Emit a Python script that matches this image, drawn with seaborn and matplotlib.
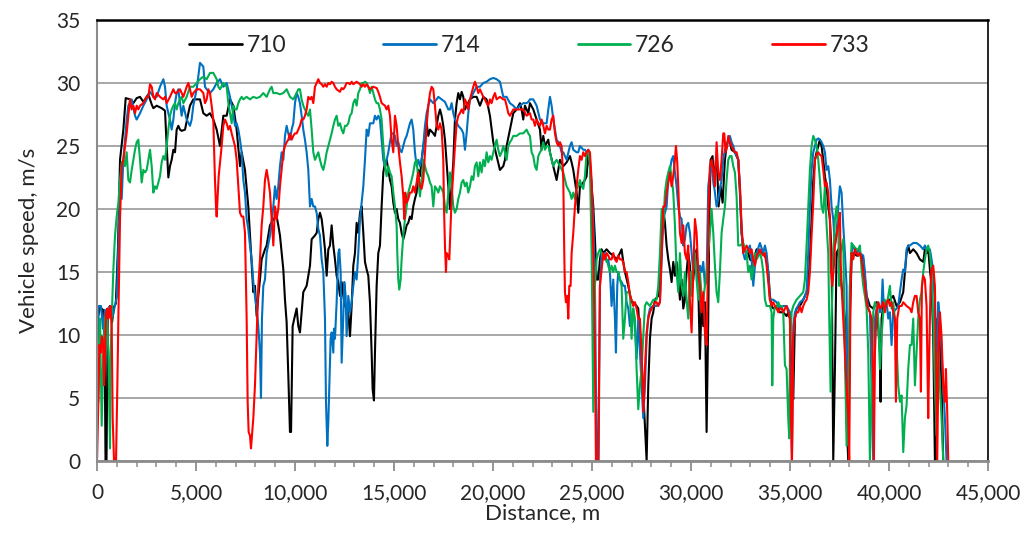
import numpy as np
import pandas as pd
import matplotlib
matplotlib.use("Agg")
import matplotlib.pyplot as plt
from matplotlib.ticker import MultipleLocator, FuncFormatter
import seaborn as sns

# ---------------- data (distance in m, speed in m/s) ----------------
series_names = ["710", "714", "726", "733"]

dist_710 = [0, 60, 150, 300, 380, 430, 480, 540, 650, 760, 850, 950, 1060,
    1162, 1330, 1448, 1667, 1835, 2003, 2172, 2340, 2592, 2761, 2845, 3013, 3265, 3434, 3518, 3602, 3686, 3770, 3855, 3939, 4023, 4107, 4191, 4275, 4444, 4612, 4696, 4864, 5033,
    5201, 5369, 5538, 5706, 5874, 6043, 6211, 6379, 6547, 6716, 6884, 7052, 7221, 7305, 7473, 7557, 7641, 7726, 7810, 7894, 7978, 8062, 8146, 8230, 8315, 8483, 8567, 8735, 8904, 9072, 9156, 9240, 9409, 9493, 9577, 9661, 9745, 9800, 9880, 9964, 10082, 10166, 10250, 10418, 10587,
    10756, 10840, 11008, 11093, 11177, 11261, 11345, 11429, 11513, 11598, 11682, 11766, 11850, 11934, 12018, 12102, 12187, 12271, 12355, 12439, 12523, 12607, 12691, 12776, 12860, 12944, 13028, 13112, 13196, 13281, 13365, 13449, 13533, 13617, 13701, 13785, 13870, 13920, 13987, 14038, 14122, 14206, 14290, 14374, 14459, 14543, 14627, 14711, 14795, 14879, 14964, 15048, 15132, 15216, 15300, 15384, 15468, 15553, 15637, 15721, 15805, 15889, 15973, 16057, 16142, 16226,
    16311, 16395, 16563, 16648, 16732, 16816, 16984, 17068, 17237, 17321, 17405, 17489, 17573, 17657, 17742, 17826, 17910, 17994, 18078, 18162, 18246, 18331, 18415, 18499, 18583, 18667, 18836, 19004, 19172, 19340, 19509, 19677, 19845, 20014, 20182, 20350, 20519, 20603, 20687, 20855, 21023, 21192, 21360, 21444, 21528, 21612, 21697, 21781,
    21866, 22034, 22203, 22371, 22455, 22539, 22623, 22792, 22876, 23044, 23212, 23381, 23549, 23717, 23886, 23970, 24054, 24222, 24306, 24391, 24559, 24643, 24727, 24811, 24895, 24980, 25064, 25148, 25232, 25316, 25400, 25484, 25569, 25737, 25905, 26074, 26242, 26410, 26494, 26578, 26663, 26831, 26999, 27083, 27252, 27336,
    27421, 27589, 27758, 27842, 27926, 28010, 28094, 28178, 28347, 28431, 28515, 28599, 28683, 28767, 28852, 28936, 29020, 29104, 29188, 29272, 29356, 29441, 29525, 29609, 29693, 29777, 29861, 29946, 30030, 30114, 30198, 30282, 30366, 30450, 30535, 30619, 30703, 30787, 30871, 30922, 30989, 31090, 31157, 31258, 31326, 31393, 31494, 31595, 31713, 31797, 31881, 31965, 32049, 32218, 32386, 32470, 32554, 32638, 32722, 32807, 32891,
    32976, 33144, 33313, 33481, 33649, 33818, 33902, 33986, 34070, 34154, 34322, 34491, 34659, 34827, 34911, 34996, 35080, 35164, 35248, 35332, 35501, 35669, 35837, 35921, 36005, 36090, 36174, 36258, 36342, 36426, 36510, 36594, 36679, 36763, 36847, 36931, 37015, 37099, 37184, 37268, 37352, 37436, 37520, 37604, 37773, 37857, 37941, 38025, 38109, 38193, 38362, 38446,
    38531, 38699, 38868, 39036, 39204, 39373, 39541, 39574, 39625, 39709, 39877, 40046, 40214, 40382, 40551, 40719, 40803, 40887, 40971, 41056, 41224, 41392, 41560, 41729, 41813, 41897, 41981, 42065, 42149, 42234, 42318, 42402, 42436, 42570, 42654, 42739]
speed_710 = [4.0, 11.5, 12.2, 12.0, 10.0, 0, 0, 11.5, 12.3, 11.0, 12.2, 12.5, 17.0,
    23.9, 26.3, 28.8, 28.7, 28.4, 28.8, 28.9, 28.5, 29.1, 28.3, 28.0, 28.2, 28.0, 27.8, 25.0, 22.5, 23.4, 23.9, 24.7, 24.5, 26.3, 26.6, 26.3, 26.2, 26.3, 27.6, 28.2, 28.7, 28.7,
    28.7, 27.6, 27.4, 27.6, 27.1, 26.3, 25.0, 27.4, 27.4, 28.7, 28.2, 26.3, 23.4, 24.5, 23.1, 21.6, 20.2, 17.9, 15.5, 13.4, 13.9, 11.5, 13.1, 14.4, 16.0, 16.8, 17.1, 18.7, 19.2, 19.4, 18.7, 17.9, 15.2, 12.8, 11.0, 6.8, 2.3, 2.3, 10.7, 11.3, 12.1, 10.7, 10.2, 13.4, 13.9,
    15.5, 17.6, 17.9, 18.1, 19.2, 19.7, 19.2, 18.1, 16.8, 14.7, 16.8, 17.1, 18.7, 17.1, 16.0, 14.7, 14.2, 13.1, 14.2, 13.1, 12.3, 12.1, 11.8, 9.9, 12.3, 15.5, 16.5, 18.9, 18.1, 19.7, 20.2, 18.1, 15.8, 15.2, 14.7, 12.6, 8.6, 5.7, 4.8, 8.6, 13.9, 16.5, 17.1, 20.2, 22.9, 23.7, 23.9, 23.1, 22.3, 21.8, 20.5, 19.7, 20.0, 19.2, 18.9, 18.1, 17.6, 18.1, 18.7, 18.9, 19.4, 19.2, 20.2, 20.8, 21.3, 23.1,
    22.6, 23.9, 26.0, 26.8, 25.8, 26.3, 26.0, 25.8, 27.4, 27.9, 27.4, 26.6, 25.5, 23.7, 21.8, 20.0, 21.8, 23.7, 27.1, 28.4, 29.2, 28.7, 29.3, 28.9, 27.9, 28.2, 28.7, 28.9, 28.9, 28.2, 28.9, 28.7, 27.4, 25.3, 24.2, 23.1, 23.4, 23.9, 25.0, 26.3, 27.6, 27.9, 28.4, 27.9, 27.1, 28.2, 27.9, 27.6,
    28.4, 27.9, 27.1, 26.3, 24.7, 25.8, 25.0, 25.5, 24.5, 23.4, 22.3, 23.9, 23.4, 23.7, 24.2, 23.7, 23.1, 21.3, 19.7, 21.8, 22.1, 22.3, 22.6, 24.5, 23.4, 21.8, 20.2, 17.6, 14.4, 14.4, 16.0, 16.8, 16.5, 16.8, 16.5, 16.3, 16.0, 16.5, 16.8, 15.8, 15.0, 13.9, 12.6, 12.6, 12.3, 12.1,
    9.7, 5.5, 0, 6.0, 9.7, 11.3, 11.8, 12.8, 13.1, 13.9, 17.1, 20.0, 18.9, 17.1, 16.0, 15.2, 14.2, 15.8, 14.7, 15.8, 14.4, 12.8, 14.4, 12.1, 12.8, 15.0, 16.5, 15.5, 13.4, 14.4, 16.0, 16.8, 13.9, 8.1, 12.8, 10.7, 12.6, 2.3, 11.3, 19.2, 23.9, 24.2, 21.8, 23.9, 23.1, 20.2, 21.8, 20.5, 23.9, 25.0, 25.5, 25.3, 24.7, 24.5, 23.9, 21.3, 18.1, 17.1, 16.8, 16.5, 16.5,
    16.0, 15.8, 16.8, 16.5, 16.5, 16.0, 15.0, 13.1, 12.3, 12.1, 12.3, 11.8, 11.8, 11.5, 11.8, 11.3, 6.0, 4.9, 11.3, 12.1, 12.3, 12.8, 13.4, 14.2, 16.0, 19.2, 22.3, 23.9, 24.5, 25.0, 25.5, 25.0, 23.9, 22.6, 21.8, 20.2, 19.2, 16.5, 0, 7.3, 16.5, 16.8, 15.2, 13.9, 11.3, 3.4, 0, 11.3, 16.0, 16.5, 16.3, 16.3,
    16.5, 16.0, 13.1, 12.3, 12.1, 12.6, 8.6, 4.7, 11.3, 12.3, 12.6, 12.8, 13.1, 12.3, 12.6, 13.4, 15.0, 16.5, 17.1, 16.5, 16.8, 16.5, 16.0, 15.8, 16.8, 16.5, 16.8, 15.2, 13.9, 9.9, 0, 0, 11.3, 9.7, 6.0, 0]

dist_714 = [0, 80, 200, 300, 400, 500, 600, 700, 800, 900, 1000, 1080,
    1162, 1246, 1330, 1498, 1582, 1751, 1919, 2003, 2172, 2340, 2508, 2677, 2845, 3013, 3181, 3350, 3434, 3518, 3602, 3686, 3770, 3855, 3939, 4023, 4107, 4191, 4275, 4360, 4528, 4696, 4780, 4864, 5033,
    5201, 5369, 5453, 5538, 5706, 5874, 6043, 6211, 6379, 6547, 6716, 6800, 6884, 6968, 7052, 7136, 7221, 7305, 7389, 7473, 7557, 7641, 7726, 7810, 7894, 7978, 8062, 8146, 8230, 8281, 8331, 8399, 8483, 8567, 8735, 8904, 8988, 9072, 9156, 9240, 9324, 9409, 9493, 9577, 9661, 9745, 9829, 9913, 9998, 10082, 10166, 10250, 10334, 10418, 10502, 10587, 10671,
    10756, 10840, 10924, 11008, 11093, 11177, 11261, 11345, 11429, 11513, 11564, 11631, 11682, 11732, 11799, 11850, 11934, 11968, 12018, 12102, 12187, 12237, 12304, 12355, 12439, 12489, 12557, 12607, 12691, 12776, 12860, 12944, 13028, 13112, 13196, 13281, 13365, 13449, 13533, 13617, 13701, 13785, 13870, 13954, 14038, 14122, 14206, 14290, 14374, 14459, 14543, 14627, 14711, 14795, 14879, 14964, 15048, 15132, 15216, 15300, 15384, 15468, 15553, 15637, 15721, 15805, 15889, 15973, 16057, 16142, 16226,
    16311, 16395, 16479, 16563, 16648, 16732, 16816, 16984, 17153, 17237, 17405, 17573, 17742, 17826, 17910, 17994, 18078, 18246, 18415, 18499, 18583, 18667, 18751, 18836, 19004, 19172, 19340, 19509, 19677, 19845, 20014, 20182, 20350, 20519, 20687, 20855, 21023, 21192, 21360, 21528, 21697, 21781,
    21866, 22034, 22203, 22371, 22539, 22708, 22792, 22876, 22960, 23044, 23128, 23212, 23297, 23381, 23465, 23549, 23717, 23886, 23970, 24054, 24222, 24306, 24391, 24559, 24643, 24727, 24811, 24895, 24980, 25064, 25148, 25198, 25265, 25333, 25400, 25484, 25569, 25653, 25737, 25821, 25905, 25989, 26074, 26158, 26208, 26275, 26326, 26410, 26494, 26578, 26663, 26747, 26831, 26915, 26999, 27083, 27168, 27252, 27336,
    27421, 27505, 27589, 27673, 27758, 27842, 27926, 28094, 28263, 28431, 28515, 28599, 28683, 28767, 28852, 28936, 29020, 29104, 29188, 29272, 29356, 29441, 29525, 29609, 29693, 29777, 29861, 29946, 30030, 30114, 30198, 30282, 30366, 30450, 30535, 30619, 30703, 30787, 30871, 30955, 31039, 31124, 31208, 31292, 31376, 31460, 31544, 31629, 31713, 31797, 31881, 31965, 32049, 32133, 32218, 32302, 32386, 32470, 32554, 32638, 32722, 32807, 32891,
    32976, 33060, 33144, 33228, 33313, 33481, 33649, 33733, 33818, 33902, 33986, 34154, 34322, 34491, 34659, 34827, 34996, 35046, 35097, 35164, 35248, 35332, 35501, 35669, 35837, 35921, 36005, 36090, 36174, 36258, 36342, 36426, 36510, 36594, 36679, 36763, 36847, 36931, 37015, 37099, 37184, 37268, 37352, 37436, 37520, 37604, 37688, 37773, 37857, 37907, 37958, 38025, 38109, 38193, 38362, 38446,
    38531, 38699, 38784, 38868, 38952, 39036, 39120, 39204, 39288, 39373, 39457, 39541, 39625, 39675, 39743, 39877, 39962, 40046, 40130, 40214, 40382, 40466, 40551, 40635, 40719, 40803, 40887, 40971, 41056, 41224, 41392, 41560, 41729, 41813, 41897, 42065, 42149, 42234, 42318, 42402, 42486, 42570, 42654, 42739, 42823, 42907]
speed_714 = [8.6, 12.3, 12.3, 10.5, 12.0, 11.0, 12.2, 12.0, 11.5, 12.3, 13.0, 17.0,
    21.8, 20.8, 23.9, 27.1, 28.2, 28.7, 27.4, 27.1, 27.6, 28.2, 28.7, 29.3, 28.9, 28.9, 29.7, 30.3, 29.7, 28.2, 27.6, 27.1, 26.3, 27.1, 28.4, 29.2, 29.5, 28.4, 27.4, 28.2, 27.1, 26.6, 27.1, 28.2, 29.5,
    31.6, 31.3, 29.7, 29.5, 29.2, 29.5, 30.0, 30.3, 29.7, 30.0, 28.9, 28.2, 27.6, 26.6, 26.8, 26.3, 25.5, 24.5, 22.3, 21.3, 19.2, 18.4, 17.1, 16.0, 14.2, 13.1, 12.1, 10.7, 8.6, 5.0, 11.3, 13.9, 14.4, 16.5, 17.9, 20.2, 21.8, 20.8, 21.8, 23.4, 24.5, 23.9, 25.8, 26.6, 26.0, 25.5, 26.3, 26.8, 28.4, 29.2, 28.9, 28.4, 27.4, 26.3, 25.5, 24.5, 23.1,
    20.2, 20.8, 20.2, 20.2, 19.7, 18.4, 17.9, 16.0, 15.0, 11.3, 4.7, 1.2, 3.1, 6.0, 9.7, 10.2, 8.6, 10.5, 9.7, 12.6, 16.5, 16.8, 15.0, 7.8, 11.5, 14.2, 13.1, 9.9, 13.1, 11.8, 12.6, 13.9, 15.0, 14.4, 16.5, 19.2, 20.5, 21.8, 23.9, 26.3, 25.8, 26.8, 26.8, 26.8, 27.4, 27.1, 27.4, 27.1, 25.5, 23.9, 23.4, 23.9, 24.5, 25.3, 26.0, 26.0, 25.8, 25.0, 25.3, 24.7, 24.5, 25.0, 25.5, 25.8, 26.3, 26.8, 27.1, 26.3, 24.5, 23.4, 23.9,
    23.4, 23.9, 25.0, 26.6, 27.6, 28.2, 28.7, 28.4, 28.7, 28.9, 28.7, 28.5, 27.9, 27.9, 28.4, 27.6, 27.1, 26.6, 26.3, 26.0, 24.7, 26.0, 27.6, 28.7, 29.2, 29.7, 29.7, 30.0, 30.1, 30.3, 30.4, 30.3, 30.1, 28.9, 28.9, 28.4, 28.2, 27.9, 28.2, 28.4, 28.4, 28.5,
    28.7, 28.7, 28.2, 27.1, 26.8, 26.8, 27.9, 28.9, 28.2, 27.1, 26.3, 25.5, 25.3, 25.0, 24.5, 24.5, 23.9, 25.0, 25.3, 24.7, 24.5, 24.5, 25.0, 24.7, 24.7, 24.5, 24.5, 23.9, 21.8, 19.2, 13.9, 6.0, 0, 0, 13.9, 16.5, 16.0, 16.5, 15.8, 16.0, 15.0, 12.3, 14.4, 11.3, 8.6, 13.9, 15.0, 14.4, 14.2, 13.9, 13.9, 12.6, 12.1, 10.7, 11.3, 12.1, 10.7, 8.1, 11.3,
    8.6, 6.0, 3.4, 6.0, 9.7, 11.5, 12.1, 12.3, 12.3, 12.6, 16.0, 19.2, 19.7, 20.2, 22.3, 23.1, 23.9, 24.2, 22.9, 21.8, 20.2, 19.4, 19.2, 17.1, 17.6, 18.7, 18.9, 18.1, 16.5, 15.0, 16.0, 15.0, 13.9, 15.5, 15.0, 15.8, 13.9, 14.4, 21.8, 22.9, 23.4, 22.3, 21.3, 20.2, 20.8, 21.6, 22.3, 23.9, 24.7, 25.0, 25.5, 25.8, 25.3, 25.0, 24.5, 24.2, 23.9, 21.8, 18.1, 16.5, 16.0, 16.5, 16.8,
    17.1, 16.0, 13.9, 15.5, 16.5, 17.3, 16.5, 17.1, 16.5, 15.0, 12.8, 12.8, 12.6, 12.1, 12.3, 12.3, 11.8, 6.0, 0, 10.7, 11.8, 12.1, 12.6, 12.8, 13.4, 16.5, 20.2, 23.1, 24.5, 25.0, 25.5, 25.6, 25.5, 25.3, 25.0, 24.5, 23.1, 23.4, 22.3, 20.2, 19.2, 17.1, 18.1, 20.2, 21.8, 21.3, 18.7, 16.5, 13.9, 3.4, 1.2, 13.9, 16.5, 17.1, 16.5, 16.7,
    16.5, 16.3, 15.0, 13.1, 12.1, 11.8, 6.0, 0, 11.3, 12.1, 12.6, 11.8, 12.3, 14.4, 12.1, 12.6, 11.3, 11.8, 9.2, 11.8, 12.1, 12.3, 13.4, 14.4, 15.2, 15.0, 16.8, 17.1, 17.1, 17.3, 17.3, 17.1, 16.8, 17.1, 16.8, 16.8, 16.0, 15.0, 12.3, 6.0, 12.6, 11.3, 8.6, 6.0, 3.4, 0]

dist_726 = [0, 68, 152, 236, 320, 404, 489, 573, 657, 690, 741, 825, 909, 993, 1078, 1162, 1246, 1330, 1414, 1498, 1582, 1667, 1751, 1835, 1919, 2003, 2087, 2172, 2256, 2340, 2424, 2508, 2592, 2677, 2761, 2845, 2929, 3013, 3097, 3181, 3265, 3350, 3434, 3518, 3602, 3686, 3770, 3855, 3939, 4023, 4107, 4191, 4275, 4360, 4528, 4696, 4864, 5033,
    5201, 5369, 5538, 5706, 5874, 6043, 6127, 6211, 6379, 6547, 6632, 6716, 6800, 6884, 6968, 7052, 7136, 7221, 7305, 7389, 7557, 7726, 7894, 8062, 8230, 8399, 8567, 8735, 8819, 8904, 9072, 9240, 9409, 9577, 9745, 9913, 10082, 10166, 10250, 10334, 10418, 10502, 10587, 10671,
    10756, 10840, 10924, 11008, 11093, 11177, 11261, 11345, 11429, 11513, 11598, 11682, 11766, 11850, 11934, 12018, 12102, 12187, 12271, 12355, 12439, 12523, 12607, 12691, 12776, 12860, 12944, 13028, 13112, 13196, 13281, 13365, 13449, 13533, 13617, 13701, 13785, 13870, 13954, 14038, 14122, 14206, 14290, 14374, 14459, 14543, 14627, 14711, 14795, 14879, 14964, 15048, 15132, 15166, 15216, 15267, 15334, 15384, 15468, 15553, 15637, 15721, 15805, 15889, 15973, 16057, 16142, 16226,
    16311, 16395, 16479, 16563, 16648, 16732, 16816, 16900, 16984, 17068, 17153, 17237, 17321, 17405, 17489, 17573, 17657, 17742, 17826, 17910, 17994, 18078, 18162, 18246, 18331, 18415, 18499, 18583, 18667, 18751, 18836, 18920, 19004, 19088, 19172, 19256, 19340, 19425, 19509, 19593, 19677, 19761, 19845, 19929, 20014, 20098, 20182, 20266, 20350, 20435, 20519, 20603, 20687, 20771, 20855, 20939, 21023, 21192, 21360, 21528, 21697, 21781,
    21866, 21950, 22034, 22118, 22203, 22287, 22371, 22455, 22539, 22623, 22708, 22792, 22876, 22960, 23044, 23128, 23212, 23381, 23549, 23717, 23886, 23970, 24054, 24138, 24222, 24306, 24391, 24475, 24559, 24643, 24727, 24811, 24895, 24980, 25064, 25148, 25232, 25316, 25400, 25484, 25569, 25737, 25905, 25989, 26074, 26158, 26242, 26326, 26410, 26494, 26578, 26663, 26747, 26831, 26915, 26999, 27083, 27168, 27252, 27336, 27420,
    27505, 27589, 27673, 27758, 27926, 28094, 28263, 28347, 28431, 28515, 28599, 28683, 28767, 28852, 28936, 29020, 29104, 29188, 29272, 29356, 29441, 29525, 29609, 29693, 29777, 29861, 29946, 30030, 30114, 30198, 30282, 30366, 30450, 30535, 30619, 30703, 30787, 30871, 30955, 31039, 31124, 31208, 31292, 31376, 31460, 31544, 31629, 31713, 31797, 31881, 31965, 32049, 32133, 32218, 32302, 32386, 32470, 32638, 32807, 32891,
    32976, 33060, 33144, 33228, 33313, 33481, 33565, 33649, 33733, 33818, 33902, 33986, 34070, 34104, 34154, 34238, 34322, 34407, 34491, 34575, 34659, 34743, 34827, 34911, 34962, 34996, 35080, 35164, 35332, 35501, 35669, 35753, 35837, 35921, 36005, 36090, 36174, 36258, 36342, 36426, 36510, 36594, 36679, 36763, 36847, 36931, 36981, 37049, 37099, 37184, 37268, 37352, 37436, 37487, 37554, 37688, 37773, 37857, 37941, 38025, 38109, 38193, 38362, 38446,
    38531, 38615, 38699, 38784, 38868, 38952, 39036, 39120, 39204, 39288, 39373, 39457, 39541, 39625, 39709, 39793, 39877, 39962, 40046, 40130, 40214, 40298, 40382, 40466, 40551, 40635, 40719, 40803, 40887, 40971, 41056, 41140, 41224, 41308, 41392, 41476, 41560, 41645, 41729, 41813, 41897, 41981, 42065, 42149, 42234, 42318, 42402, 42486, 42570, 42654, 42739]
speed_726 = [12.1, 4.7, 11.3, 2.8, 8.6, 11.3, 11.8, 8.6, 1.0, 8.6, 11.3, 15.2, 17.9, 19.4, 20.5, 22.3, 23.7, 23.9, 23.4, 24.5, 22.3, 22.1, 23.1, 23.9, 24.7, 25.3, 25.5, 23.9, 22.1, 23.1, 22.9, 23.1, 23.9, 24.7, 23.4, 21.3, 21.8, 21.6, 22.1, 22.6, 23.7, 24.2, 23.9, 25.0, 26.3, 27.4, 27.9, 28.2, 28.4, 27.9, 28.4, 28.7, 28.9, 28.4, 28.9, 29.7, 29.7, 30.0,
    30.3, 30.5, 30.3, 30.8, 30.8, 30.3, 29.7, 29.5, 30.0, 29.7, 28.4, 27.6, 26.8, 28.2, 27.9, 27.9, 28.4, 28.7, 28.9, 28.7, 28.9, 28.7, 28.9, 28.8, 28.9, 29.2, 28.9, 29.5, 29.7, 29.2, 29.2, 29.1, 29.2, 29.5, 28.9, 28.7, 29.2, 29.5, 29.5, 28.7, 28.2, 27.9, 27.6, 27.4,
    27.9, 26.3, 24.5, 23.9, 24.2, 24.5, 23.9, 23.4, 23.1, 23.7, 24.5, 25.0, 25.5, 26.0, 26.6, 27.1, 27.4, 26.6, 26.8, 26.3, 26.0, 26.6, 26.6, 26.8, 27.4, 27.6, 28.4, 28.7, 28.2, 29.2, 29.5, 30.0, 30.0, 30.1, 30.0, 29.7, 29.2, 29.7, 29.2, 28.7, 28.4, 28.4, 27.9, 27.1, 25.0, 23.4, 22.6, 23.4, 22.9, 22.6, 21.3, 20.2, 18.7, 16.5, 14.4, 13.6, 14.4, 16.0, 17.9, 19.2, 20.2, 21.3, 21.8, 22.3, 22.9, 23.7, 23.9, 22.3,
    21.0, 22.3, 23.9, 23.4, 22.9, 22.6, 22.1, 21.8, 20.2, 21.8, 21.6, 21.3, 21.8, 21.6, 21.3, 20.2, 19.7, 21.3, 22.9, 21.8, 20.2, 19.7, 20.0, 20.8, 21.3, 22.1, 22.3, 21.8, 22.1, 21.3, 21.8, 22.6, 22.3, 23.4, 23.7, 22.6, 23.7, 22.9, 23.9, 23.4, 24.5, 23.7, 24.2, 23.9, 24.5, 25.0, 25.5, 24.7, 24.2, 24.5, 25.0, 24.5, 23.9, 25.0, 25.3, 25.5, 25.8, 25.8, 26.0, 26.0, 26.3, 26.0,
    25.8, 24.5, 24.2, 23.4, 23.1, 24.2, 24.5, 24.7, 25.3, 24.7, 25.0, 25.0, 24.5, 23.9, 23.4, 23.7, 23.9, 23.4, 22.9, 21.8, 21.3, 20.8, 21.3, 20.8, 21.6, 21.8, 22.3, 21.8, 21.6, 22.6, 24.5, 24.7, 23.4, 16.5, 3.9, 13.9, 16.0, 16.5, 16.8, 16.5, 16.0, 16.0, 15.0, 15.5, 15.0, 15.5, 15.0, 15.0, 14.4, 13.9, 9.7, 11.3, 13.4, 13.4, 13.4, 9.7, 12.1, 11.3, 7.3, 4.1, 6.0,
    7.3, 9.9, 12.3, 12.6, 12.3, 12.8, 12.8, 13.9, 16.5, 20.0, 18.7, 21.3, 22.3, 22.9, 23.4, 22.6, 21.3, 18.7, 15.0, 13.4, 16.5, 13.9, 13.1, 15.0, 12.8, 11.3, 15.0, 13.1, 15.5, 16.5, 14.4, 12.8, 15.0, 13.1, 12.8, 13.9, 15.0, 16.5, 18.1, 20.0, 18.1, 15.5, 13.4, 12.6, 15.0, 18.1, 19.2, 20.2, 22.3, 23.9, 24.2, 24.2, 23.4, 22.9, 21.0, 17.1, 17.1, 17.3, 16.5, 15.0,
    15.5, 14.4, 15.2, 16.5, 16.0, 16.5, 16.0, 15.0, 12.8, 12.3, 12.3, 12.3, 11.8, 6.0, 11.3, 12.3, 12.1, 12.6, 12.3, 12.3, 11.8, 7.6, 7.3, 3.4, 1.8, 8.6, 11.8, 12.3, 12.8, 13.1, 13.4, 14.4, 17.1, 20.2, 23.1, 25.0, 25.8, 25.5, 25.0, 23.9, 22.3, 20.2, 19.7, 21.8, 18.7, 16.5, 11.3, 5.5, 11.3, 16.0, 19.2, 20.2, 18.7, 13.9, 16.5, 17.6, 8.6, 1.2, 3.4, 13.9, 17.3, 17.1, 16.8, 16.8,
    17.1, 15.2, 13.9, 13.1, 12.1, 8.6, 0, 6.0, 11.8, 12.6, 12.3, 11.3, 7.3, 9.9, 11.8, 12.8, 12.3, 13.1, 13.9, 12.1, 12.6, 11.3, 9.2, 6.0, 4.7, 5.2, 0.7, 3.4, 4.4, 7.3, 9.2, 9.2, 11.3, 6.0, 8.6, 11.3, 12.8, 13.4, 15.0, 16.0, 16.8, 17.1, 16.5, 15.0, 11.3, 6.0, 2.0, 8.6, 6.0, 3.4, 0]

dist_733 = [0, 68, 118, 186, 236, 287, 320, 354, 404, 455, 522, 573, 623, 690, 741, 791, 859, 960, 1027, 1078, 1162, 1246, 1330, 1498, 1582, 1667, 1751, 1835, 1919, 2003, 2087, 2172, 2340, 2508, 2592, 2677, 2761, 2845, 2929, 3013, 3181, 3350, 3434, 3518, 3686, 3855, 3939, 4023, 4191, 4360, 4528, 4612, 4696, 4780, 4864, 5033,
    5201, 5369, 5453, 5538, 5622, 5706, 5790, 5874, 5908, 5958, 6009, 6043, 6093, 6144, 6211, 6295, 6379, 6463, 6547, 6632, 6716, 6800, 6884, 6968, 7052, 7136, 7221, 7305, 7389, 7473, 7557, 7608, 7658, 7726, 7776, 7826, 7894, 7978, 8062, 8146, 8230, 8315, 8399, 8483, 8567, 8651, 8735, 8819, 8904, 8988, 9072, 9156, 9240, 9324, 9409, 9493, 9577, 9661, 9745, 9829, 9913, 9998, 10082, 10166, 10250, 10334, 10418, 10502, 10587, 10671,
    10756, 10840, 10924, 11008, 11093, 11177, 11261, 11345, 11429, 11513, 11598, 11682, 11766, 11850, 11934, 12018, 12102, 12271, 12355, 12439, 12523, 12607, 12691, 12776, 12860, 12944, 13028, 13112, 13196, 13281, 13365, 13449, 13533, 13617, 13701, 13785, 13954, 14122, 14206, 14290, 14374, 14459, 14543, 14627, 14711, 14795, 14879, 14964, 15048, 15132, 15216, 15300, 15384, 15468, 15519, 15569, 15637, 15721, 15805, 15889, 15973, 16057, 16142, 16226,
    16311, 16395, 16479, 16563, 16648, 16732, 16816, 16900, 16984, 17068, 17153, 17237, 17321, 17405, 17489, 17523, 17573, 17624, 17657, 17742, 17792, 17859, 17910, 17994, 18078, 18162, 18246, 18331, 18415, 18499, 18583, 18667, 18751, 18836, 18920, 19004, 19088, 19172, 19256, 19340, 19425, 19509, 19593, 19677, 19761, 19845, 19929, 20014, 20098, 20182, 20350, 20519, 20603, 20687, 20771, 20855, 21023, 21192, 21360, 21528, 21697, 21781,
    21866, 21950, 22034, 22118, 22203, 22287, 22371, 22455, 22539, 22623, 22708, 22792, 22876, 22960, 23044, 23128, 23212, 23297, 23381, 23465, 23549, 23599, 23633, 23684, 23751, 23801, 23852, 23919, 23970, 24054, 24138, 24222, 24306, 24391, 24475, 24559, 24643, 24727, 24811, 24895, 24980, 25064, 25148, 25198, 25316, 25367, 25400, 25484, 25569, 25653, 25737, 25821, 25905, 25989, 26074, 26158, 26242, 26326, 26410, 26494, 26578, 26663, 26747, 26831, 26915, 26999, 27083, 27168, 27252, 27336,
    27421, 27505, 27600, 27673, 27758, 27842, 27926, 28010, 28094, 28178, 28263, 28347, 28431, 28515, 28599, 28683, 28767, 28852, 28936, 29020, 29104, 29188, 29239, 29306, 29356, 29441, 29525, 29609, 29693, 29777, 29861, 29946, 30030, 30114, 30198, 30282, 30366, 30450, 30535, 30619, 30703, 30787, 30837, 30888, 30955, 31039, 31124, 31208, 31292, 31376, 31460, 31544, 31629, 31679, 31746, 31830, 31881, 31965, 32049, 32133, 32218, 32302, 32386, 32470, 32554, 32638, 32722, 32807, 32891,
    32976, 33060, 33144, 33228, 33313, 33397, 33481, 33565, 33649, 33733, 33818, 33902, 33986, 34070, 34154, 34238, 34322, 34407, 34491, 34575, 34659, 34743, 34827, 34911, 34996, 35046, 35097, 35130, 35164, 35248, 35332, 35416, 35501, 35585, 35669, 35753, 35837, 35921, 36005, 36090, 36174, 36258, 36342, 36426, 36510, 36594, 36679, 36763, 36847, 36931, 37015, 37066, 37133, 37217, 37268, 37352, 37436, 37520, 37554, 37604, 37688, 37773, 37857, 37941, 37991, 38059, 38109, 38193, 38277, 38362, 38446,
    38531, 38615, 38699, 38784, 38868, 38952, 39036, 39120, 39204, 39238, 39288, 39373, 39457, 39541, 39625, 39709, 39793, 39877, 39962, 40046, 40130, 40214, 40298, 40349, 40416, 40517, 40635, 40719, 40887, 41056, 41140, 41224, 41308, 41392, 41476, 41560, 41611, 41661, 41729, 41813, 41897, 41981, 42032, 42099, 42149, 42234, 42318, 42368, 42436, 42503, 42570, 42654, 42739, 42823, 42873, 42940, 42991]
speed_733 = [0, 4.7, 9.2, 8.6, 9.9, 9.7, 8.6, 6.0, 8.6, 11.8, 12.1, 11.3, 11.8, 12.3, 10.7, 3.4, 0, 0, 6.0, 11.3, 19.2, 23.4, 23.9, 26.0, 27.4, 28.7, 27.9, 28.2, 27.6, 28.2, 27.9, 28.2, 28.4, 28.9, 28.9, 29.9, 29.7, 28.9, 28.7, 29.2, 28.9, 28.7, 28.9, 28.4, 28.9, 29.5, 29.2, 29.2, 29.5, 28.9, 29.7, 30.0, 29.5, 28.9, 29.2, 29.5,
    29.5, 29.2, 28.4, 28.7, 29.5, 29.2, 28.2, 27.1, 25.0, 22.3, 20.2, 19.4, 21.0, 22.6, 23.7, 25.0, 26.6, 27.1, 26.8, 26.3, 26.6, 26.0, 25.5, 25.0, 23.9, 21.8, 19.7, 19.4, 19.4, 18.1, 11.3, 4.7, 2.3, 2.0, 1.0, 2.0, 3.4, 6.0, 9.9, 13.9, 16.0, 18.7, 20.2, 22.3, 23.1, 22.3, 21.3, 19.2, 17.1, 20.2, 19.2, 20.0, 21.8, 23.1, 24.5, 25.0, 25.3, 25.5, 26.0, 25.5, 25.8, 26.0, 26.0, 26.3, 26.6, 27.1, 27.1, 27.4, 27.9, 28.9,
    28.7, 28.9, 28.4, 29.7, 30.0, 30.3, 30.0, 29.9, 29.7, 29.9, 29.7, 30.0, 29.9, 30.1, 30.0, 29.7, 29.5, 29.3, 29.6, 29.5, 29.7, 30.0, 30.0, 29.9, 30.1, 29.9, 30.0, 30.1, 30.0, 29.9, 29.7, 29.9, 29.7, 29.9, 29.7, 29.5, 29.7, 29.6, 29.3, 28.9, 28.4, 28.3, 28.2, 27.9, 28.2, 27.4, 25.5, 24.5, 27.4, 26.6, 25.0, 23.7, 22.6, 21.0, 19.2, 21.3, 20.5, 20.8, 21.3, 21.3, 21.8, 21.3, 22.1, 22.9,
    21.8, 21.6, 22.3, 24.5, 26.6, 28.2, 29.2, 29.7, 29.5, 28.2, 26.6, 26.3, 26.8, 26.3, 23.9, 20.2, 17.1, 15.0, 16.5, 16.3, 16.0, 18.7, 20.8, 22.9, 25.0, 26.8, 27.4, 27.6, 27.9, 27.6, 28.7, 28.4, 27.9, 28.7, 29.2, 29.7, 30.1, 29.7, 29.2, 29.5, 29.2, 28.9, 28.7, 28.4, 28.2, 28.7, 28.4, 28.9, 29.2, 28.7, 28.9, 28.7, 28.7, 28.2, 27.6, 27.4, 27.9, 27.9, 27.9, 27.9, 27.4, 27.5,
    27.6, 27.1, 27.1, 26.6, 27.1, 26.8, 26.6, 27.1, 26.6, 26.0, 26.6, 26.3, 26.3, 27.1, 27.4, 26.0, 25.3, 25.0, 25.3, 25.0, 22.3, 16.5, 13.4, 12.6, 13.1, 11.3, 13.9, 13.9, 16.5, 18.1, 20.2, 21.8, 23.1, 24.2, 23.9, 24.5, 24.2, 24.5, 24.7, 24.5, 22.3, 16.5, 8.6, 0, 0, 8.6, 13.9, 15.2, 16.5, 16.0, 16.5, 16.3, 16.0, 16.0, 16.5, 16.0, 15.8, 16.3, 16.0, 16.0, 15.8, 15.0, 15.0, 14.2, 13.1, 12.8, 12.3, 12.6, 12.1, 11.3,
    11.3, 8.6, 3.9, 7.3, 10.2, 11.3, 11.8, 12.1, 12.3, 12.6, 12.6, 12.3, 12.6, 16.5, 20.2, 20.2, 21.3, 22.1, 22.9, 21.8, 22.6, 23.9, 25.0, 23.7, 21.8, 18.1, 17.3, 18.7, 16.5, 16.0, 17.1, 12.6, 10.2, 15.0, 19.2, 18.1, 15.0, 13.9, 11.8, 13.4, 10.2, 9.2, 13.9, 20.2, 23.4, 23.9, 23.1, 21.8, 25.3, 22.9, 22.3, 23.9, 26.0, 26.0, 24.5, 25.0, 25.8, 25.3, 25.0, 24.7, 24.5, 24.5, 23.9, 21.8, 18.7, 16.5, 16.8, 17.1, 16.8,
    16.5, 16.8, 16.0, 15.5, 16.3, 16.5, 16.8, 16.5, 16.3, 16.5, 15.5, 14.2, 12.8, 12.3, 12.6, 12.3, 12.1, 11.8, 12.1, 12.1, 11.8, 12.1, 12.3, 11.8, 11.3, 3.4, 0, 3.4, 9.9, 11.3, 11.8, 11.8, 12.3, 11.8, 12.3, 12.6, 12.8, 13.4, 15.0, 17.9, 20.5, 23.9, 24.3, 24.5, 24.3, 24.2, 23.1, 21.8, 22.1, 21.3, 19.2, 15.2, 13.9, 15.5, 17.1, 17.9, 18.7, 19.7, 16.0, 13.9, 11.3, 8.6, 6.0, 3.4, 0, 13.9, 16.5, 16.0, 16.8, 16.5, 16.3,
    16.5, 16.0, 15.0, 13.9, 12.6, 12.1, 11.8, 11.3, 6.0, 0, 8.6, 11.8, 12.6, 12.1, 12.3, 12.6, 11.8, 12.6, 12.8, 12.3, 12.6, 11.8, 11.3, 4.7, 11.3, 12.3, 12.3, 12.6, 12.3, 12.1, 11.8, 12.6, 13.1, 13.1, 11.8, 11.3, 5.5, 13.9, 14.7, 14.4, 12.3, 3.4, 8.6, 13.9, 15.2, 15.5, 13.9, 8.6, 0, 8.6, 11.8, 9.9, 6.0, 4.7, 7.3, 3.9, 0]

series_dist = [dist_710, dist_714, dist_726, dist_733]
series_speed = [speed_710, speed_714, speed_726, speed_733]
colors = {"710": "#000000", "714": "#0070C0", "726": "#00B050", "733": "#FF0000"}

y_ticks = [0, 5, 10, 15, 20, 25, 30, 35]

# ---------------- figure ----------------
sns.set_style("white")
plt.rcParams["font.family"] = ["Lato", "DejaVu Sans"]

frames = []
for name, d, s in zip(series_names, series_dist, series_speed):
    frames.append(pd.DataFrame({"Distance": d, "Speed": s, "Vehicle": name}))
df = pd.concat(frames, ignore_index=True)

fig = plt.figure(figsize=(10.31, 5.36), dpi=100)
ax = fig.add_axes([0.0941, 0.140, 0.9583 - 0.0941, 0.9627 - 0.140])

sns.lineplot(data=df, x="Distance", y="Speed", hue="Vehicle", hue_order=series_names,
             palette=colors, estimator=None, sort=False, linewidth=1.5, ax=ax)

ax.set_xlim(0, 45000)
ax.set_ylim(0, 35)
ax.set_yticks(y_ticks)
ax.xaxis.set_major_locator(MultipleLocator(5000))
ax.xaxis.set_minor_locator(MultipleLocator(1000))
ax.xaxis.set_major_formatter(FuncFormatter(lambda v, p: f"{int(v):,}"))

ax.yaxis.grid(True, color="#A0A0A0", linewidth=1.3)
ax.set_axisbelow(True)

for side in ["top", "right"]:
    ax.spines[side].set_color("#000000")
ax.spines["top"].set_linewidth(1.8)
ax.spines["right"].set_linewidth(1.2)
ax.spines["left"].set_color("#8C8C8C")
ax.spines["left"].set_linewidth(1.5)
ax.spines["bottom"].set_color("#8C8C8C")
ax.spines["bottom"].set_linewidth(2.0)

ax.tick_params(axis="x", which="major", direction="out", length=7, width=1.3,
               color="#8C8C8C", pad=9, labelsize=15, bottom=True)
ax.tick_params(axis="x", which="minor", direction="out", length=4, width=1.1,
               color="#8C8C8C", bottom=True)
ax.tick_params(axis="y", which="both", length=0, pad=12, labelsize=15)

ax.set_xlabel("Distance, m", fontsize=16, labelpad=0)
ax.set_ylabel("Vehicle speed, m/s", fontsize=16, labelpad=12)

handles, labels = ax.get_legend_handles_labels()
for h in handles:
    h.set_linewidth(2.0)
ax.legend(handles, labels, loc="center", bbox_to_anchor=(0.485, 0.943), ncol=4,
          frameon=False, fontsize=16.5, handlelength=2.3, handletextpad=0.2,
          columnspacing=4.25)

fig.savefig("out.png", dpi=100)
